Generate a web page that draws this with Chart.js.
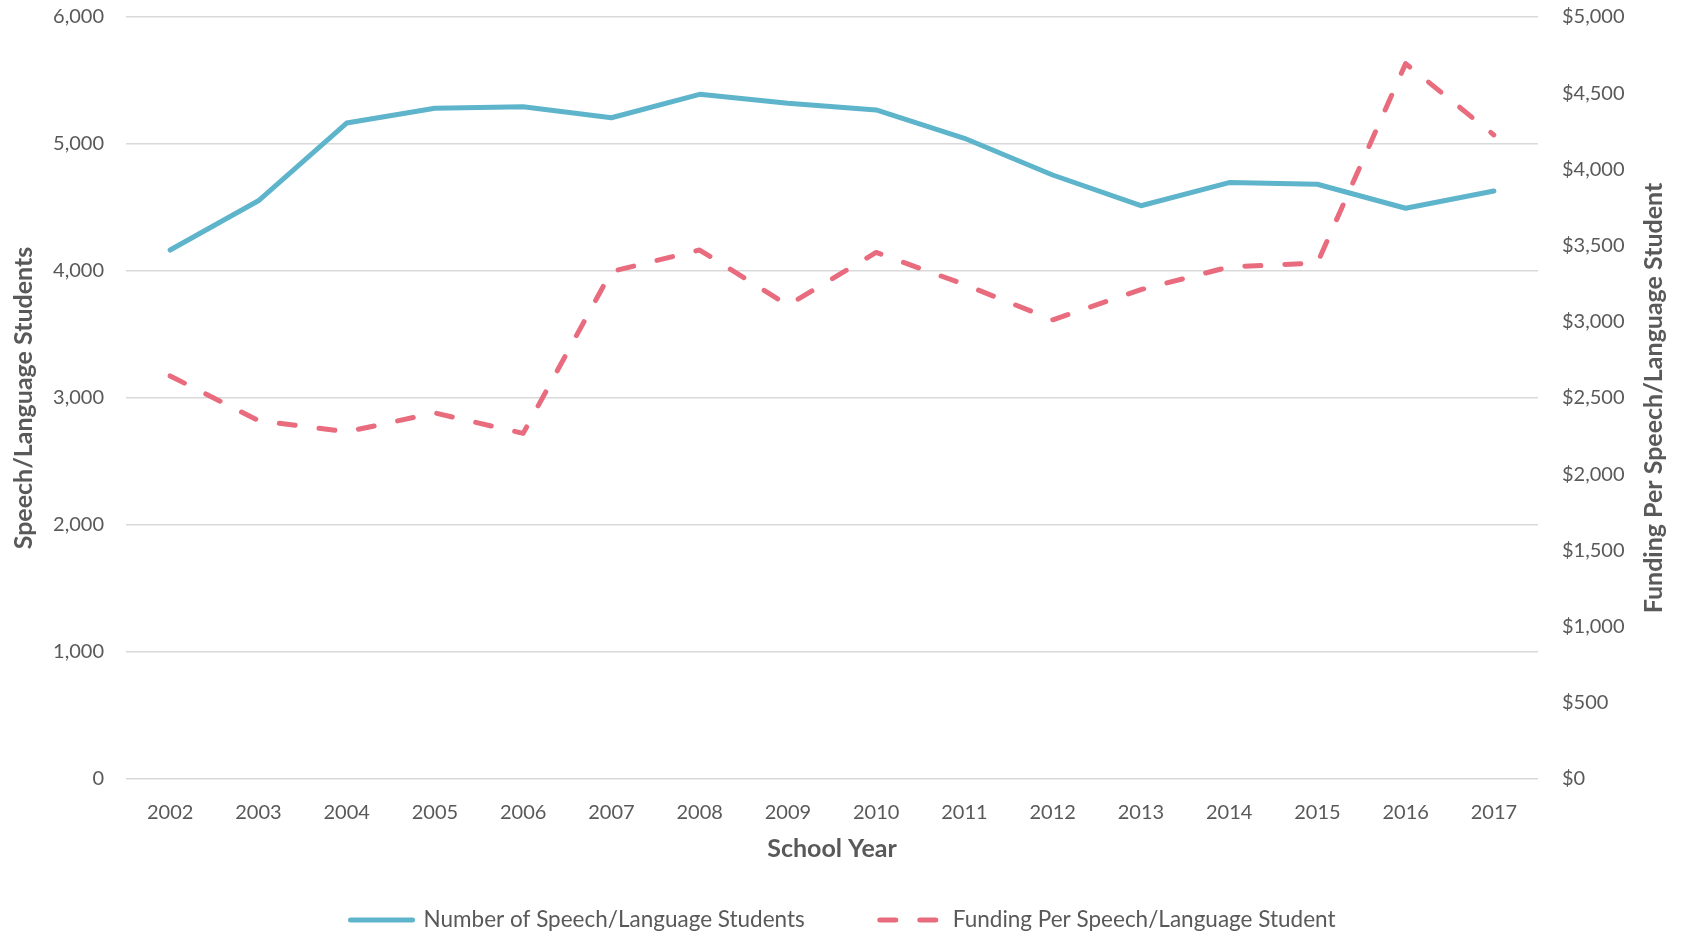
<!DOCTYPE html>
<html>
<head>
<meta charset="utf-8">
<script src="https://cdn.jsdelivr.net/npm/chart.js@4/dist/chart.umd.min.js"></script>
<style>
  html, body { margin: 0; padding: 0; background: #ffffff; }
  #wrap { width: 1683px; height: 934px; }
</style>
</head>
<body>
<div id="wrap"><canvas id="c" width="1683" height="934"></canvas></div>
<script>
const years = ['2002','2003','2004','2005','2006','2007','2008','2009','2010','2011','2012','2013','2014','2015','2016','2017'];
const students = [4165, 4553, 5165, 5281, 5293, 5207, 5391, 5320, 5268, 5045, 4756, 4514, 4696, 4683, 4494, 4630];
const funding = [2645, 2352, 2278, 2402, 2268, 3330, 3471, 3108, 3455, 3245, 3013, 3211, 3360, 3386, 4694, 4226];
const seriesNames = ['Number of Speech/Language Students', 'Funding Per Speech/Language Student'];
const xTitle = 'School Year';
const yLeftTitle = 'Speech/Language Students';
const yRightTitle = 'Funding Per Speech/Language Student';

const FONT = 'Lato, "Open Sans", sans-serif';
const TEXT = '#595959';
const BLUE = '#5EB4CB';
const RED = '#E86C7E';

const customLegend = {
  id: 'customLegend',
  afterDraw(chart) {
    const ctx = chart.ctx;
    ctx.save();
    ctx.font = '22.5px ' + FONT;
    const sample = 68, gapText = 8, gapItem = 72;
    const items = chart.data.datasets.map(ds => ({ds, w: sample + gapText + ctx.measureText(ds.label).width}));
    const total = items.reduce((s, it) => s + it.w, 0) + gapItem * (items.length - 1);
    let x = (chart.width - total) / 2;
    const y = 920;
    items.forEach(it => {
      ctx.beginPath();
      ctx.strokeStyle = it.ds.borderColor;
      ctx.lineWidth = it.ds.borderWidth;
      ctx.lineCap = 'round';
      ctx.setLineDash(it.ds.borderDash || []);
      ctx.moveTo(x + 3, y);
      ctx.lineTo(x + sample - 3, y);
      ctx.stroke();
      ctx.setLineDash([]);
      ctx.fillStyle = TEXT;
      ctx.textBaseline = 'middle';
      ctx.textAlign = 'left';
      ctx.fillText(it.ds.label, x + sample + gapText, y);
      x += it.w + gapItem;
    });
    // right axis title, reading bottom to top
    ctx.translate(1654, (chart.chartArea.top + chart.chartArea.bottom) / 2);
    ctx.rotate(-Math.PI / 2);
    ctx.font = 'bold 25px ' + FONT;
    ctx.textAlign = 'center';
    ctx.textBaseline = 'middle';
    ctx.fillStyle = TEXT;
    ctx.fillText(yRightTitle, 0, 0);
    ctx.restore();
  }
};

new Chart(document.getElementById('c'), {
  type: 'line',
  data: {
    labels: years,
    datasets: [
      {
        label: seriesNames[0],
        data: students,
        yAxisID: 'y',
        borderColor: BLUE,
        backgroundColor: BLUE,
        borderWidth: 5,
        pointRadius: 0,
        tension: 0,
        borderCapStyle: 'round',
        borderJoinStyle: 'round'
      },
      {
        label: seriesNames[1],
        data: funding,
        yAxisID: 'y1',
        borderColor: RED,
        backgroundColor: RED,
        borderWidth: 5,
        borderDash: [16, 24],
        pointRadius: 0,
        tension: 0,
        borderCapStyle: 'round',
        borderJoinStyle: 'round'
      }
    ]
  },
  options: {
    responsive: false,
    animation: false,
    layout: { autoPadding: false, padding: { top: 17, left: 0, right: 0, bottom: 69 } },
    plugins: {
      legend: { display: false },
      tooltip: { enabled: false }
    },
    scales: {
      x: {
        offset: true,
        grid: { display: false, drawTicks: false },
        border: { display: false },
        ticks: { color: TEXT, font: { family: FONT, size: 20 }, padding: 22, maxRotation: 0 },
        title: { display: true, text: xTitle, color: TEXT, font: { family: FONT, size: 25, weight: 'bold' }, padding: { top: 0, bottom: 1 } },
        afterFit(s) { s.height = 86; s.paddingLeft = 0; s.paddingRight = 0; }
      },
      y: {
        position: 'left',
        min: 0, max: 6000,
        ticks: { stepSize: 1000, color: TEXT, font: { family: FONT, size: 20 }, padding: 22,
          callback: v => v.toLocaleString('en-US') },
        grid: { color: '#D9D9D9', lineWidth: 1.5, drawTicks: false },
        border: { display: false },
        title: { display: true, text: yLeftTitle, color: TEXT, font: { family: FONT, size: 25, weight: 'bold' }, padding: { top: 9, bottom: 0 } },
        afterFit(s) { s.width = 126; s.paddingTop = 0; s.paddingBottom = 0; }
      },
      y1: {
        position: 'right',
        min: 0, max: 5000,
        ticks: { stepSize: 500, color: TEXT, font: { family: FONT, size: 20 }, padding: 24,
          callback: v => '$' + v.toLocaleString('en-US') },
        grid: { drawOnChartArea: false, drawTicks: false },
        border: { display: false },
        afterFit(s) { s.width = 145; s.paddingTop = 0; s.paddingBottom = 0; }
      }
    }
  },
  plugins: [customLegend]
});
</script>
</body>
</html>
